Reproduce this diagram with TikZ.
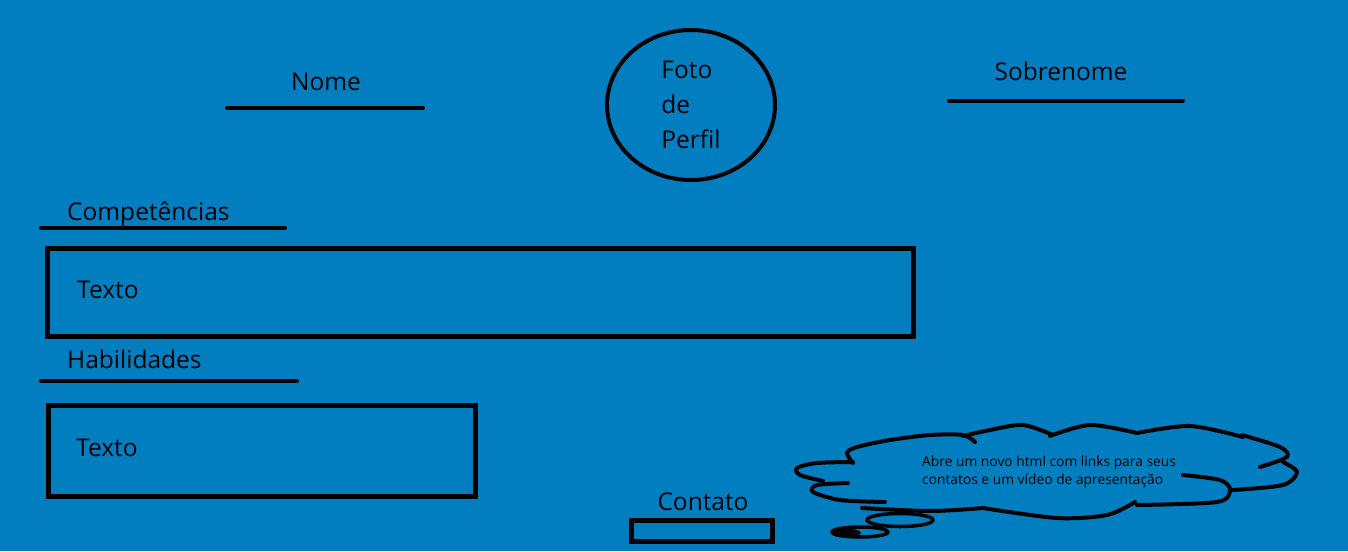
\documentclass[tikz,border=0pt]{standalone}
\usepackage{fontspec}
\setmainfont{Open Sans}
\usetikzlibrary{shapes.geometric}
\definecolor{fundo}{RGB}{0,126,192}
\begin{document}
\begin{tikzpicture}[x=1pt,y=-1pt,
  lbl/.style={inner sep=0pt,font=\fontsize{24.5}{35}\selectfont},
  nota/.style={inner sep=0pt,align=left,font=\fontsize{13.8}{18}\selectfont},
  linha/.style={line width=4pt,line cap=round},
  caixa/.style={line width=5pt},
  nuvem/.style={line width=4pt,line cap=round}]
\useasboundingbox (0,0) rectangle (1348,551);
\fill[fundo] (0,0) rectangle (1348,551);

\node[lbl,anchor=base] (nome) at (326,90) {Nome};
\draw[linha] (227,108) -- (423,108);

\node[lbl,ellipse,draw,line width=4pt,minimum width=168pt,minimum height=150pt,align=left] (foto) at (691,105) {Foto\\de\\Perfil};

\node[lbl,anchor=base] (sobrenome) at (1061,81) {Sobrenome};
\draw[linha] (949,101) -- (1183,101);

\node[lbl,anchor=base west] (competencias) at (67,220) {Competências};
\draw[linha] (41,228) -- (285,228);
\draw[caixa] (47.5,248.5) rectangle (913,336);
\node[lbl,anchor=base west] (texto1) at (77,298) {Texto};

\node[lbl,anchor=base west] (habilidades) at (67,368) {Habilidades};
\draw[linha] (41,381) -- (297,381);
\draw[caixa] (48,405) rectangle (475,496);
\node[lbl,anchor=base west] (texto2) at (76,456) {Texto};

\node[lbl,anchor=base] (contato) at (703,510) {Contato};
\draw[caixa] (631,520) rectangle (772,541);

\draw[nuvem] plot[smooth] coordinates {(853,463) (847,453) (857,447) (890,440) (930,435) (963,435) (975,442)};
\draw[nuvem] plot[smooth] coordinates {(963,436) (990,430) (1023,425) (1053,435)};
\draw[nuvem] plot[smooth] coordinates {(1050,436) (1090,425) (1137,433)};
\draw[nuvem] plot[smooth] coordinates {(1137,433) (1190,426) (1243,437)};
\draw[nuvem] plot[smooth] coordinates {(1242,435) (1280,447) (1287,457) (1260,467)};
\draw[nuvem] plot[smooth] coordinates {(1283,462) (1297,472) (1283,485) (1233,490)};
\draw[nuvem] plot[smooth] coordinates {(1183,475) (1220,480) (1230,490) (1217,502) (1137,505)};
\draw[nuvem] plot[smooth] coordinates {(1135,502) (1107,515) (1057,518) (983,508)};
\draw[nuvem] plot[smooth] coordinates {(983,508) (930,511) (862,508)};
\draw[nuvem] plot[smooth] coordinates {(885,502) (840,500) (813,492) (817,485) (848,483)};
\draw[nuvem] plot[smooth] coordinates {(823,481) (800,475) (797,468) (817,463) (853,462)};
\draw[line width=3.5pt] (900,520) ellipse [x radius=33, y radius=6.5];
\draw[line width=3.5pt] (860,532) ellipse [x radius=28, y radius=5];
\fill (846,533) ellipse [x radius=15, y radius=4.5];
\node[nota,anchor=base west] (aviso) at (922,484) {Abre um novo html com links para seus\\contatos e um vídeo de apresentação};
\end{tikzpicture}
\end{document}
